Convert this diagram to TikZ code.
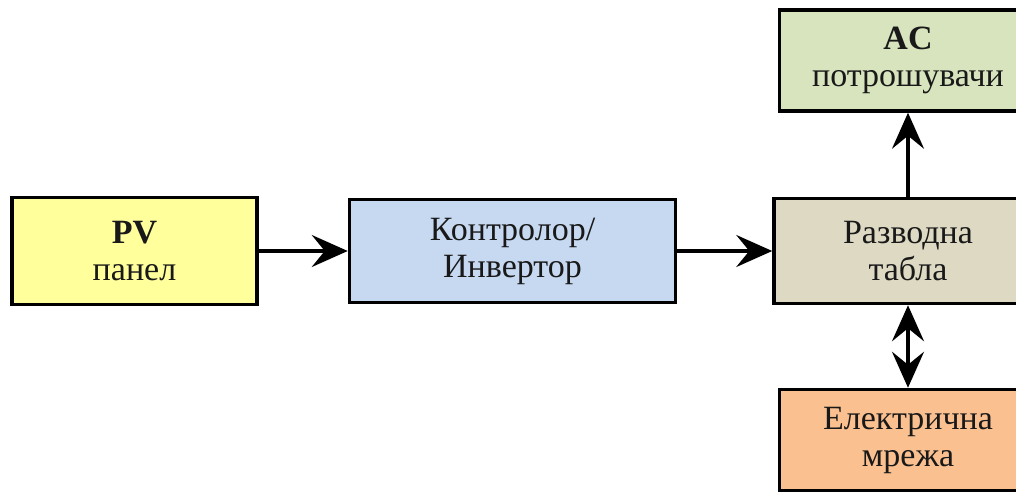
\documentclass[tikz,border=0pt]{standalone}
\usepackage{fontspec}
\setmainfont{Liberation Serif}
\usetikzlibrary{arrows.meta, positioning}

\definecolor{pvyellow}{HTML}{FFFF9C}
\definecolor{ctrlblue}{HTML}{C6D9F1}
\definecolor{tablatan}{HTML}{DDD9C3}
\definecolor{acgreen}{HTML}{D7E4BD}
\definecolor{gridorange}{HTML}{FAC090}

\begin{document}
\begin{tikzpicture}[x=1pt, y=-1pt,
      >={Stealth[length=36pt, width=32pt, inset=13pt]},
      blok/.style={draw=black, line width=3.5pt, inner sep=0pt, align=center,
                   font=\fontsize{34}{37}\selectfont, text=black!90},
      tek/.style={line width=3.2pt, ->}]

    % page size (px of the reference)
    \useasboundingbox (0,0) rectangle (1016,497);
    \clip (0,0) rectangle (1016,497);

    % blocks
    \node[blok, fill=pvyellow,   minimum width=245pt, minimum height=107pt] (pv)   at (134.5,251) {\textbf{PV}\\панел};
    \node[blok, fill=ctrlblue,   minimum width=326pt, minimum height=103pt] (ctrl) at (512.5,251) {Контролор/\\Инвертор};
    \node[blok, fill=tablatan,   minimum width=268pt, minimum height=105pt] (tabla) at (908,251)  {Разводна\\табла};
    \node[blok, fill=acgreen,    minimum width=257pt, minimum height=101pt] (ac)   at (908,60.5) {\textbf{AC}\\потрошувачи};
    \node[blok, fill=gridorange, minimum width=257pt, minimum height=101pt] (mreza) at (908,440) {Електрична\\мрежа};

    % connectors
    \draw[tek] (pv) -- (ctrl);
    \draw[tek] (ctrl) -- (tabla);
    \draw[tek] (tabla) -- (ac);
    \draw[tek, <->] (tabla) -- (mreza);

\end{tikzpicture}
\end{document}
